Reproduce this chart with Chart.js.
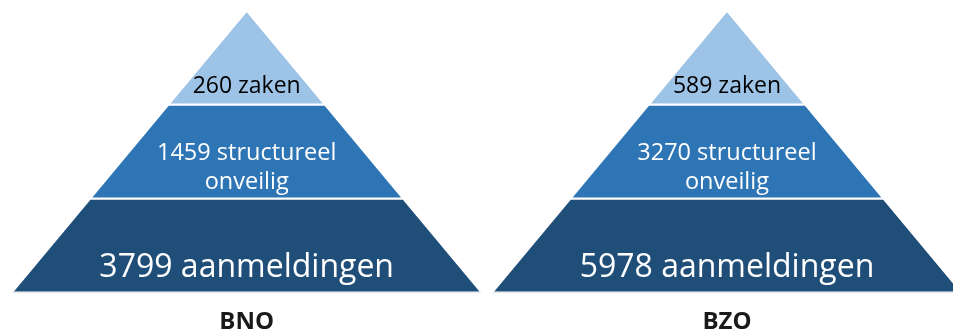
<!DOCTYPE html>
<html>
<head>
<meta charset="utf-8">
<script src="https://cdn.jsdelivr.net/npm/chart.js@4.4.1/dist/chart.umd.min.js"></script>
<style>
  html, body { margin: 0; padding: 0; background: #fff; }
  #wrap { width: 953px; height: 334px; position: relative; }
</style>
</head>
<body>
<div id="wrap"><canvas id="chart"></canvas></div>
<script>
const groups = ["BNO", "BZO"];
const tierNames = [["zaken"], ["structureel", "onveilig"], ["aanmeldingen"]];
const bnoCounts = [260, 1459, 3799];
const bzoCounts = [589, 3270, 5978];
const tierColors = ["#9DC3E6", "#2E75B6", "#1F4E79"];

const counts = [bnoCounts, bzoCounts];
const tierCount = tierNames.length;
const halfBase = 0.489; // half of the base width, in x units

function tierShape(groupIndex, tierIndex) {
  const w0 = (halfBase * tierIndex) / tierCount;
  const w1 = (halfBase * (tierIndex + 1)) / tierCount;
  const y0 = tierIndex;
  const y1 = tierIndex + 1;
  return [
    { x: groupIndex - w0, y: y0 },
    { x: groupIndex + w0, y: y0 },
    { x: groupIndex + w1, y: y1 },
    { x: groupIndex - w1, y: y1 },
    { x: groupIndex - w0, y: y0 },
  ];
}

const datasets = [];
groups.forEach((group, g) => {
  tierNames.forEach((name, i) => {
    datasets.push({
      label: `${group} ${name.join(" ")}`,
      data: tierShape(g, i),
      showLine: true,
      fill: "shape",
      tension: 0,
      pointRadius: 0,
      borderColor: "#ffffff",
      borderWidth: 2,
      backgroundColor: tierColors[i],
    });
  });
});

// text inside each tier
const tierText = [
  { offset: 0.81, size: 23, color: "#000000" },
  { offset: 0.67, size: 23.5, color: "#ffffff" },
  { offset: 0.74, size: 32, color: "#ffffff" },
];

const tierLabels = {
  id: "tierLabels",
  afterDatasetsDraw(chart) {
    const { ctx, scales } = chart;
    ctx.save();
    ctx.textAlign = "center";
    ctx.textBaseline = "middle";
    groups.forEach((group, g) => {
      tierNames.forEach((name, i) => {
        const style = tierText[i];
        const lines = name.slice();
        lines[0] = `${counts[g][i]} ${lines[0]}`;
        const lineHeight = style.size * 1.24;
        const cx = scales.x.getPixelForValue(g);
        const cy = scales.y.getPixelForValue(i + style.offset);
        ctx.font = `${style.size}px "Open Sans"`;
        ctx.fillStyle = style.color;
        lines.forEach((line, k) => {
          const dy = (k - (lines.length - 1) / 2) * lineHeight;
          ctx.fillText(line, cx, cy + dy);
        });
      });
    });
    ctx.restore();
  },
};

new Chart(document.querySelector("#chart"), {
  type: "scatter",
  data: { datasets },
  options: {
    responsive: true,
    maintainAspectRatio: false,
    animation: false,
    layout: { padding: 0 },
    plugins: {
      legend: { display: false },
      tooltip: { enabled: false },
    },
    scales: {
      x: {
        type: "linear",
        min: -0.5136,
        max: 1.4706,
        grid: { display: false },
        border: { display: false },
        afterBuildTicks: (axis) => {
          axis.ticks = groups.map((_, i) => ({ value: i }));
        },
        afterFit: (axis) => {
          axis.height = 41.5;
        },
        ticks: {
          autoSkip: false,
          maxRotation: 0,
          padding: 7,
          color: "#1a1a1a",
          font: { family: "Open Sans", weight: "bold", size: 24 },
          callback: (value) => groups[value],
        },
      },
      y: {
        display: false,
        reverse: true,
        min: -0.112,
        max: 3,
      },
    },
  },
  plugins: [tierLabels],
});
</script>
</body>
</html>
